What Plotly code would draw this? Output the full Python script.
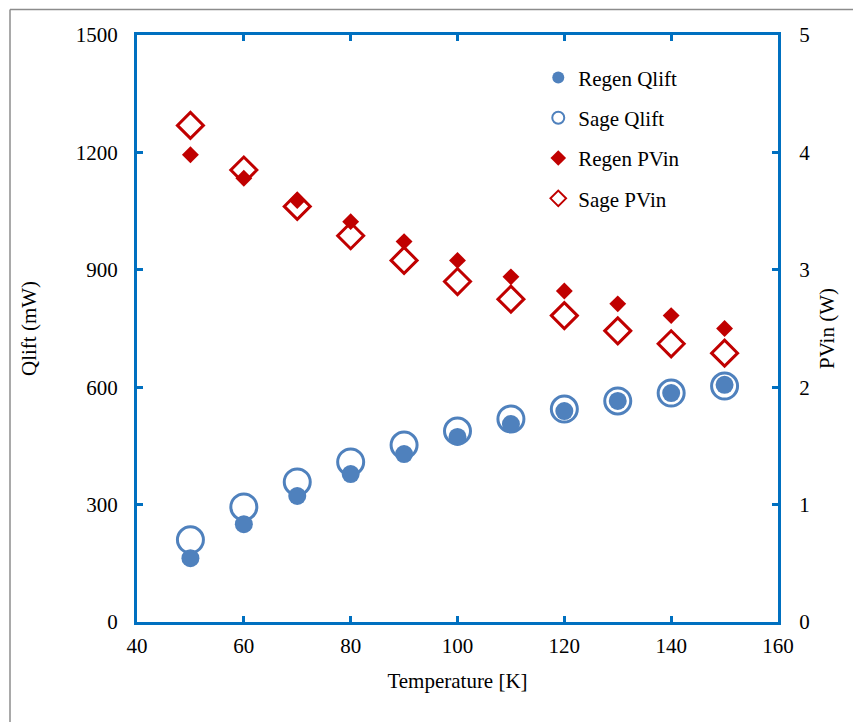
import plotly.graph_objects as go

temperature = [50, 60, 70, 80, 90, 100, 110, 120, 130, 140, 150]
regen_qlift = [163, 250, 322, 378, 429, 473, 506, 539, 565, 585, 606]
sage_qlift = [210, 294, 358, 409, 452, 488, 519, 544, 565, 585, 603]
regen_pvin = [3.98, 3.78, 3.59, 3.41, 3.24, 3.08, 2.94, 2.82, 2.71, 2.61, 2.50]
sage_pvin = [4.23, 3.85, 3.54, 3.29, 3.08, 2.90, 2.75, 2.61, 2.48, 2.37, 2.29]

BLUE = "#4F81BD"
RED = "#C00000"
FRAME = "#0070C0"
FONT = "Liberation Serif"
FS = 21

# plot-area geometry in page pixels (page has an 8px body offset)
OFF = 8
L, R, T, B = 137, 778, 35, 622
PW, PH = R - L, B - T

fig = go.Figure()
fig.add_trace(go.Scatter(x=temperature, y=sage_qlift, mode="markers", name="Sage Qlift",
                         legendgroup="b", legendrank=2,
                         marker=dict(symbol="circle-open", size=26, color=BLUE, line=dict(width=3, color=BLUE))))
fig.add_trace(go.Scatter(x=temperature, y=regen_qlift, mode="markers", name="Regen Qlift",
                         legendgroup="a", legendrank=1,
                         marker=dict(symbol="circle", size=18, color=BLUE)))
fig.add_trace(go.Scatter(x=temperature, y=sage_pvin, mode="markers", name="Sage PVin", yaxis="y2",
                         legendgroup="d", legendrank=4,
                         marker=dict(symbol="diamond-open", size=20, color=RED, line=dict(width=3, color=RED))))
fig.add_trace(go.Scatter(x=temperature, y=regen_pvin, mode="markers", name="Regen PVin", yaxis="y2",
                         legendgroup="c", legendrank=3,
                         marker=dict(symbol="diamond", size=13, color=RED)))

axis_common = dict(showgrid=False, zeroline=False, showline=True, linecolor=FRAME, linewidth=3,
                   ticks="inside", ticklen=6, tickwidth=2.5, tickcolor=FRAME,
                   tickfont=dict(family=FONT, size=FS, color="black"))

bx0, bx1 = (10 - L) / PW, (870 - L) / PW
by0, by1 = (B - 730) / PH, (B - 9.5) / PH

fig.update_layout(
    width=861, height=722,
    margin=dict(l=L - OFF, r=861 - (R - OFF), t=T - OFF, b=722 - (B - OFF)),
    paper_bgcolor="white", plot_bgcolor="white",
    font=dict(family=FONT, size=FS, color="black"),
    showlegend=True,
    legend=dict(x=0.626, y=0.962, xanchor="left", yanchor="top", bgcolor="rgba(0,0,0,0)",
                font=dict(family=FONT, size=FS), itemsizing="constant", tracegroupgap=10,
                traceorder="grouped"),
    xaxis=dict(range=[40, 160], dtick=20, tick0=40, mirror="ticks",
               title=dict(text="Temperature [K]", standoff=17, font=dict(family=FONT, size=FS)),
               ticklabelstandoff=3, **axis_common),
    yaxis=dict(range=[0, 1500], dtick=300, tick0=0,
               title=dict(text="Qlift (mW)", standoff=34, font=dict(family=FONT, size=FS)),
               ticklabelstandoff=12, **axis_common),
    yaxis2=dict(range=[0, 5], dtick=1, tick0=0, overlaying="y", side="right",
                title=dict(text="PVin (W)", standoff=11, font=dict(family=FONT, size=FS)),
                ticklabelstandoff=14, **axis_common),
    shapes=[
        dict(type="line", xref="paper", yref="paper", x0=bx0, x1=bx0, y0=by0, y1=by1,
             line=dict(color="#8C8C8C", width=1.5), layer="below"),
        dict(type="line", xref="paper", yref="paper", x0=bx0, x1=bx1, y0=by1, y1=by1,
             line=dict(color="#8C8C8C", width=1.5), layer="below"),
    ],
)

fig.write_html("out.html")
